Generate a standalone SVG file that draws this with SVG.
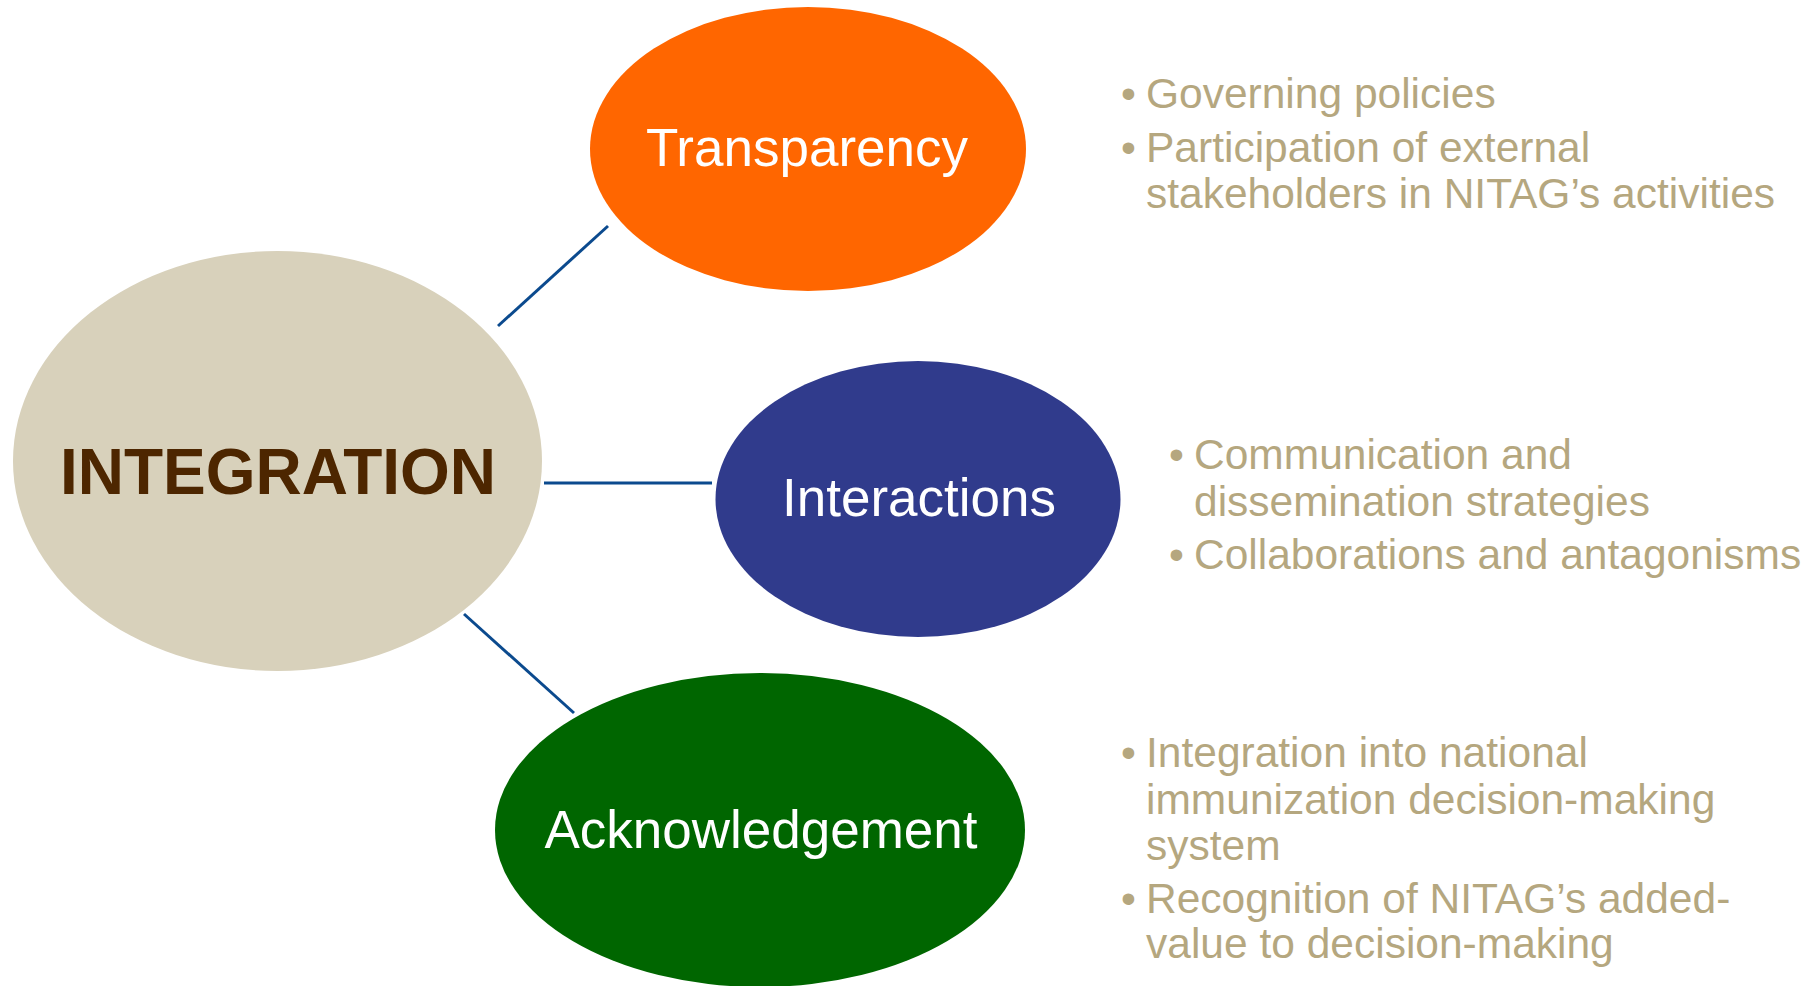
<svg xmlns="http://www.w3.org/2000/svg" width="1816" height="986" viewBox="0 0 1816 986">
<style>
.node-label{font-family:"Liberation Sans",Arial,sans-serif;fill:#FFFFFF;font-size:53px;text-anchor:middle}
.main-label{font-family:"Liberation Sans",Arial,sans-serif;fill:#4D2600;font-size:64px;font-weight:bold;text-anchor:middle}
.bullet{font-family:"Liberation Sans",Arial,sans-serif;fill:#B5A77F;font-size:42.5px}
.conn{stroke:#0B4A8E;stroke-width:3;fill:none}
</style>
<rect width="1816" height="986" fill="#FFFFFF"/>
<g id="connectors">
<line class="conn" x1="498" y1="326" x2="608" y2="226"/>
<line class="conn" x1="544" y1="483" x2="712" y2="483"/>
<line class="conn" x1="464" y1="614" x2="574" y2="713"/>
</g>
<g id="integration">
<ellipse cx="277.5" cy="461" rx="264.5" ry="210" fill="#D8D1BB"/>
<text class="main-label" x="278" y="494">INTEGRATION</text>
</g>
<g id="transparency">
<ellipse cx="808" cy="149" rx="218" ry="142" fill="#FF6600"/>
<text class="node-label" x="807" y="166">Transparency</text>
</g>
<g id="interactions">
<ellipse cx="918" cy="499" rx="202.5" ry="138" fill="#303B8C"/>
<text class="node-label" x="919" y="516">Interactions</text>
</g>
<g id="acknowledgement">
<ellipse cx="760" cy="830" rx="265" ry="157" fill="#006600"/>
<text class="node-label" x="761" y="848">Acknowledgement</text>
</g>
<g id="transparency-notes">
<text class="bullet" x="1121" y="108">•</text>
<text class="bullet" x="1146" y="108">Governing policies</text>
<text class="bullet" x="1121" y="162">•</text>
<text class="bullet" x="1146" y="162">Participation of external</text>
<text class="bullet" x="1146" y="208">stakeholders in NITAG’s activities</text>
</g>
<g id="interactions-notes">
<text class="bullet" x="1169" y="469">•</text>
<text class="bullet" x="1194" y="469">Communication and</text>
<text class="bullet" x="1194" y="516">dissemination strategies</text>
<text class="bullet" x="1169" y="569">•</text>
<text class="bullet" x="1194" y="569">Collaborations and antagonisms</text>
</g>
<g id="acknowledgement-notes">
<text class="bullet" x="1121" y="767">•</text>
<text class="bullet" x="1146" y="767">Integration into national</text>
<text class="bullet" x="1146" y="814">immunization decision-making</text>
<text class="bullet" x="1146" y="860">system</text>
<text class="bullet" x="1121" y="913">•</text>
<text class="bullet" x="1146" y="913">Recognition of NITAG’s added-</text>
<text class="bullet" x="1146" y="958">value to decision-making</text>
</g>
</svg>
